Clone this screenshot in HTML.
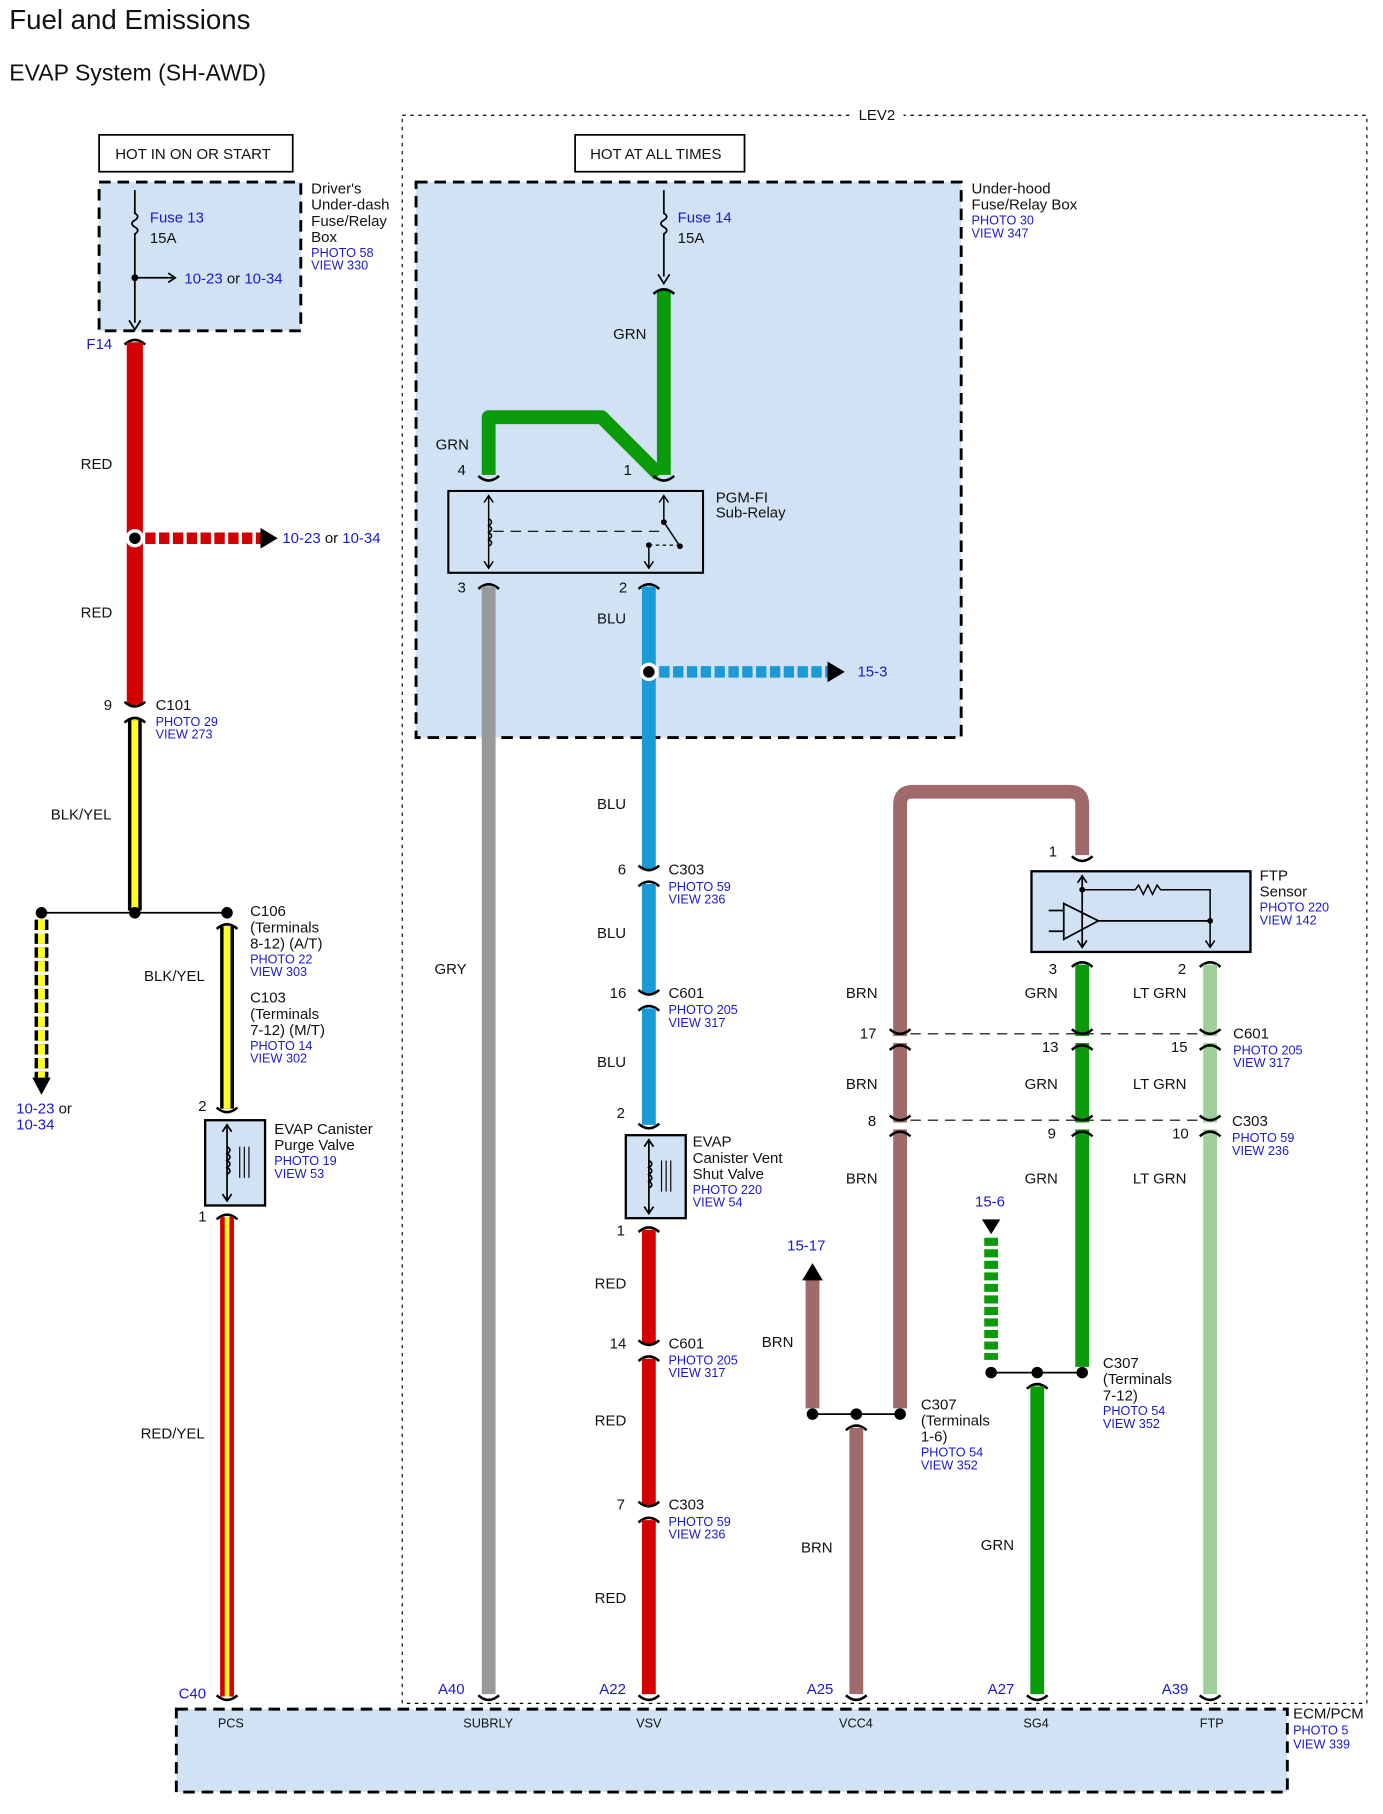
<!DOCTYPE html>
<html><head><meta charset="utf-8"><style>
html,body{margin:0;padding:0;background:#fff}
svg{display:block}
text{font-family:"Liberation Sans",Arial,sans-serif;fill:#111}
.s{font-size:13px}
.b{fill:#1a1acc;font-size:11px}
.bl{fill:#1a1acc;font-size:13px}
</style></head><body>
<svg width="1383" height="1814" viewBox="0 0 1200 1574" preserveAspectRatio="none" xmlns="http://www.w3.org/2000/svg">
<defs>
<g id="u"><path d="M-9,-5 Q0,3 9,-5" fill="none" stroke="#000" stroke-width="2.2"/></g>
<g id="d"><path d="M-9,5 Q0,-3 9,5" fill="none" stroke="#000" stroke-width="2.2"/></g>
</defs>
<text x="8" y="25" style="font-size:24px">Fuel and Emissions</text>
<text x="8" y="70" style="font-size:20px">EVAP System (SH-AWD)</text>

<!-- LEV2 -->
<rect x="349" y="100" width="837" height="1378" fill="none" stroke="#000" stroke-dasharray="3,4" stroke-width="1"/>
<rect x="740" y="92" width="44" height="14" fill="#fff"/>
<text x="745" y="104" class="s">LEV2</text>

<!-- boxes -->
<rect x="86" y="117" width="168" height="32" fill="#fff" stroke="#000" stroke-width="1.5"/>
<text x="100" y="138" class="s">HOT IN ON OR START</text>
<rect x="499" y="117" width="147" height="32" fill="#fff" stroke="#000" stroke-width="1.5"/>
<text x="512" y="138" class="s">HOT AT ALL TIMES</text>

<rect x="86" y="158" width="175" height="129" fill="#d0e2f4" stroke="#000" stroke-width="2.5" stroke-dasharray="10,6"/>
<text x="270" y="168" class="s">Driver's</text><text x="270" y="182" class="s">Under-dash</text><text x="270" y="196" class="s">Fuse/Relay</text><text x="270" y="210" class="s">Box</text>
<text x="270" y="223" class="b">PHOTO 58</text><text x="270" y="234" class="b">VIEW 330</text>

<rect x="361" y="158" width="473" height="482" fill="#d0e2f4" stroke="#000" stroke-width="2.5" stroke-dasharray="10,6"/>
<text x="843" y="168" class="s">Under-hood</text><text x="843" y="182" class="s">Fuse/Relay Box</text>
<text x="843" y="195" class="b">PHOTO 30</text><text x="843" y="206" class="b">VIEW 347</text>

<!-- Fuse 13 -->
<path d="M117,165 V185 q5,3 0,6 q-5,3 0,6 q5,3 0,6 V280" fill="none" stroke="#000" stroke-width="1.5"/>
<path d="M112,278 L117,286 L122,278" fill="none" stroke="#000" stroke-width="1.5"/>
<circle cx="117" cy="241" r="3"/><path d="M117,241 H150" stroke="#000" stroke-width="1.5"/><path d="M146,237 L152,241 L146,245" fill="none" stroke="#000" stroke-width="1.5"/>
<text x="130" y="193" class="bl">Fuse 13</text><text x="130" y="211" class="s">15A</text>
<text x="160" y="246" class="bl">10-23 <tspan style="fill:#111">or</tspan> 10-34</text>
<!-- Fuse 14 -->
<path d="M576,165 V185 q5,3 0,6 q-5,3 0,6 q5,3 0,6 V240" fill="none" stroke="#000" stroke-width="1.5"/>
<path d="M571,238 L576,246 L581,238" fill="none" stroke="#000" stroke-width="1.5"/>
<text x="588" y="193" class="bl">Fuse 14</text><text x="588" y="211" class="s">15A</text>

<!-- left column wires -->
<text x="75" y="303" class="bl">F14</text>
<use href="#d" x="117" y="294"/>
<line x1="117" y1="297" x2="117" y2="612" stroke="#d40000" stroke-width="14"/>
<text x="70" y="407" class="s">RED</text><text x="70" y="536" class="s">RED</text>
<line x1="126" y1="467" x2="226" y2="467" stroke="#d40000" stroke-width="10" stroke-dasharray="9,3"/>
<path d="M226,458 L241,467 L226,476Z"/>
<circle cx="117" cy="467" r="8" fill="#fff"/><circle cx="117" cy="467" r="5"/>
<text x="245" y="471" class="bl">10-23 <tspan style="fill:#111">or</tspan> 10-34</text>
<use href="#u" x="117" y="614"/><use href="#d" x="117" y="622"/>
<text x="90" y="616" class="s">9</text><text x="135" y="616" class="s">C101</text>
<text x="135" y="630" class="b">PHOTO 29</text><text x="135" y="641" class="b">VIEW 273</text>
<line x1="117" y1="625" x2="117" y2="790" stroke="#000" stroke-width="12"/>
<line x1="117" y1="625" x2="117" y2="790" stroke="#ffff22" stroke-width="6"/>
<text x="44" y="711" class="s">BLK/YEL</text>
<line x1="36" y1="792" x2="197" y2="792" stroke="#000" stroke-width="1.5"/>
<circle cx="36" cy="792" r="5"/><circle cx="117" cy="792" r="5"/><circle cx="197" cy="792" r="5"/>
<line x1="36" y1="798" x2="36" y2="935" stroke="#000" stroke-width="12" stroke-dasharray="9,3"/>
<line x1="36" y1="798" x2="36" y2="935" stroke="#ffff22" stroke-width="6" stroke-dasharray="9,3"/>
<path d="M28,935 L36,950 L44,935Z"/>
<text x="14" y="966" class="bl">10-23 <tspan style="fill:#111">or</tspan></text><text x="14" y="980" class="bl">10-34</text>
<use href="#d" x="197" y="801"/>
<line x1="197" y1="804" x2="197" y2="962" stroke="#000" stroke-width="12"/>
<line x1="197" y1="804" x2="197" y2="962" stroke="#ffff22" stroke-width="6"/>
<text x="217" y="795" class="s">C106</text><text x="217" y="809" class="s">(Terminals</text><text x="217" y="823" class="s">8-12) (A/T)</text>
<text x="217" y="836" class="b">PHOTO 22</text><text x="217" y="847" class="b">VIEW 303</text>
<text x="217" y="870" class="s">C103</text><text x="217" y="884" class="s">(Terminals</text><text x="217" y="898" class="s">7-12) (M/T)</text>
<text x="217" y="911" class="b">PHOTO 14</text><text x="217" y="922" class="b">VIEW 302</text>
<text x="125" y="851" class="s">BLK/YEL</text>
<text x="172" y="964" class="s">2</text>
<use href="#u" x="197" y="966"/>
<rect x="178" y="972" width="52" height="74" fill="#d0e2f4" stroke="#000" stroke-width="2"/>
<path d="M197,976 V1042 M193,982 L197,976 L201,982 M193,1036 L197,1042 L201,1036" fill="none" stroke="#000" stroke-width="1.5"/>
<path d="M197,995 q5,3 0,6 q5,3 0,6 q5,3 0,6 q5,3 0,6" fill="none" stroke="#000" stroke-width="1.5"/>
<path d="M208,995 V1022 M212,995 V1022 M216,995 V1022" stroke="#000" stroke-width="1"/>
<text x="238" y="984" class="s">EVAP Canister</text><text x="238" y="998" class="s">Purge Valve</text>
<text x="238" y="1011" class="b">PHOTO 19</text><text x="238" y="1022" class="b">VIEW 53</text>
<text x="172" y="1060" class="s">1</text>
<use href="#d" x="197" y="1053"/>
<line x1="197" y1="1056" x2="197" y2="1472" stroke="#d40000" stroke-width="12"/>
<line x1="197" y1="1056" x2="197" y2="1472" stroke="#ffff22" stroke-width="4"/>
<text x="122" y="1248" class="s">RED/YEL</text>
<text x="155" y="1474" class="bl">C40</text>
<use href="#u" x="197" y="1476"/>

<!-- relay -->
<line x1="576" y1="252" x2="576" y2="412" stroke="#0a9a0a" stroke-width="12"/>
<use href="#d" x="576" y="250"/>
<text x="532" y="294" class="s">GRN</text>
<path d="M424,412 V362 H522 L572,412" fill="none" stroke="#0a9a0a" stroke-width="12" stroke-linejoin="round"/>
<text x="378" y="390" class="s">GRN</text>
<text x="397" y="412" class="s">4</text><text x="541" y="412" class="s">1</text>
<use href="#u" x="424" y="418"/><use href="#u" x="576" y="418"/>
<rect x="389" y="426" width="221" height="71" fill="#d0e2f4" stroke="#000" stroke-width="1.8"/>
<path d="M424,430 V493 M420,436 L424,430 L428,436 M420,487 L424,493 L428,487" fill="none" stroke="#000" stroke-width="1.3"/>
<path d="M424,450 q5,3 0,6 q5,3 0,6 q5,3 0,6 q5,3 0,6" fill="none" stroke="#000" stroke-width="1.3"/>
<path d="M428,461 H572" stroke="#000" stroke-dasharray="9,6" stroke-width="1"/>
<path d="M576,430 V453 L590,474 M572,436 L576,430 L580,436" fill="none" stroke="#000" stroke-width="1.3"/>
<circle cx="576" cy="453" r="2.5"/><circle cx="590" cy="474" r="2.5"/><circle cx="563" cy="473" r="2.5"/>
<path d="M563,473 H588" stroke="#000" stroke-dasharray="3,3"/>
<path d="M563,473 V493 M559,487 L563,493 L567,487" fill="none" stroke="#000" stroke-width="1.3"/>
<text x="621" y="436" class="s">PGM-FI</text><text x="621" y="449" class="s">Sub-Relay</text>
<text x="397" y="514" class="s">3</text><text x="537" y="514" class="s">2</text>
<use href="#d" x="424" y="506"/><use href="#d" x="563" y="506"/>

<!-- GRY -->
<line x1="424" y1="509" x2="424" y2="1470" stroke="#999" stroke-width="12"/>
<text x="377" y="845" class="s">GRY</text>
<text x="380" y="1470" class="bl">A40</text><use href="#u" x="424" y="1476"/>

<!-- BLU -->
<line x1="563" y1="509" x2="563" y2="754" stroke="#1a9bd7" stroke-width="12"/>
<line x1="572" y1="583" x2="718" y2="583" stroke="#1a9bd7" stroke-width="10" stroke-dasharray="9,3"/>
<path d="M718,574 L733,583 L718,592Z"/>
<circle cx="563" cy="583" r="8" fill="#fff"/><circle cx="563" cy="583" r="5"/>
<text x="744" y="587" class="bl">15-3</text>
<text x="518" y="541" class="s">BLU</text><text x="518" y="702" class="s">BLU</text>
<use href="#u" x="563" y="756"/><use href="#d" x="563" y="764"/>
<text x="536" y="759" class="s">6</text><text x="580" y="759" class="s">C303</text>
<text x="580" y="773" class="b">PHOTO 59</text><text x="580" y="784" class="b">VIEW 236</text>
<line x1="563" y1="767" x2="563" y2="862" stroke="#1a9bd7" stroke-width="12"/>
<text x="518" y="814" class="s">BLU</text>
<use href="#u" x="563" y="864"/><use href="#d" x="563" y="872"/>
<text x="529" y="866" class="s">16</text><text x="580" y="866" class="s">C601</text>
<text x="580" y="880" class="b">PHOTO 205</text><text x="580" y="891" class="b">VIEW 317</text>
<line x1="563" y1="875" x2="563" y2="976" stroke="#1a9bd7" stroke-width="12"/>
<text x="518" y="926" class="s">BLU</text>
<text x="535" y="970" class="s">2</text>
<use href="#u" x="563" y="980"/>
<rect x="543" y="985" width="52" height="72" fill="#d0e2f4" stroke="#000" stroke-width="2"/>
<path d="M563,989 V1053 M559,995 L563,989 L567,995 M559,1047 L563,1053 L567,1047" fill="none" stroke="#000" stroke-width="1.5"/>
<path d="M563,1007 q5,3 0,6 q5,3 0,6 q5,3 0,6 q5,3 0,6" fill="none" stroke="#000" stroke-width="1.5"/>
<path d="M574,1007 V1034 M578,1007 V1034 M582,1007 V1034" stroke="#000" stroke-width="1"/>
<text x="601" y="995" class="s">EVAP</text><text x="601" y="1009" class="s">Canister Vent</text><text x="601" y="1023" class="s">Shut Valve</text>
<text x="601" y="1036" class="b">PHOTO 220</text><text x="601" y="1047" class="b">VIEW 54</text>
<text x="535" y="1072" class="s">1</text>
<use href="#d" x="563" y="1064"/>
<line x1="563" y1="1067" x2="563" y2="1166" stroke="#d40000" stroke-width="12"/>
<text x="516" y="1118" class="s">RED</text>
<use href="#u" x="563" y="1168"/><use href="#d" x="563" y="1176"/>
<text x="529" y="1170" class="s">14</text><text x="580" y="1170" class="s">C601</text>
<text x="580" y="1184" class="b">PHOTO 205</text><text x="580" y="1195" class="b">VIEW 317</text>
<line x1="563" y1="1179" x2="563" y2="1306" stroke="#d40000" stroke-width="12"/>
<text x="516" y="1237" class="s">RED</text>
<use href="#u" x="563" y="1308"/><use href="#d" x="563" y="1316"/>
<text x="535" y="1310" class="s">7</text><text x="580" y="1310" class="s">C303</text>
<text x="580" y="1324" class="b">PHOTO 59</text><text x="580" y="1335" class="b">VIEW 236</text>
<line x1="563" y1="1319" x2="563" y2="1470" stroke="#d40000" stroke-width="12"/>
<text x="516" y="1391" class="s">RED</text>
<text x="520" y="1470" class="bl">A22</text><use href="#u" x="563" y="1476"/>

<!-- BRN -->
<path d="M781,1222 V698 Q781,687 792,687 H928 Q939,687 939,698 V742" fill="none" stroke="#a06a6a" stroke-width="12"/>
<text x="910" y="743" class="s">1</text>
<use href="#u" x="939" y="748"/>
<rect x="895" y="756" width="190" height="70" fill="#d0e2f4" stroke="#000" stroke-width="2"/>
<path d="M939,760 V822 M935,766 L939,760 L943,766 M935,816 L939,822 L943,816" fill="none" stroke="#000" stroke-width="1.5"/>
<path d="M939,772 H985 l3,-4 l4,8 l4,-8 l4,8 l4,-8 l3,4 H1050 V822 M1046,816 L1050,822 L1054,816" fill="none" stroke="#000" stroke-width="1.3"/>
<circle cx="939" cy="772" r="2.5"/><circle cx="1050" cy="799" r="2.5"/>
<path d="M923,784 V815 L953,799Z M910,790 H923 M910,808 H923 M953,799 H1050" fill="none" stroke="#000" stroke-width="1.5"/>
<text x="1093" y="764" class="s">FTP</text><text x="1093" y="778" class="s">Sensor</text>
<text x="1093" y="791" class="b">PHOTO 220</text><text x="1093" y="802" class="b">VIEW 142</text>
<text x="910" y="845" class="s">3</text><text x="1022" y="845" class="s">2</text>
<use href="#d" x="939" y="834"/><use href="#d" x="1050" y="834"/>
<line x1="939" y1="837" x2="939" y2="1186" stroke="#0a9a0a" stroke-width="12"/>
<line x1="1050" y1="837" x2="1050" y2="1470" stroke="#9fd09a" stroke-width="12"/>
<text x="734" y="866" class="s">BRN</text><text x="889" y="866" class="s">GRN</text><text x="983" y="866" class="s">LT GRN</text>
<text x="734" y="945" class="s">BRN</text><text x="889" y="945" class="s">GRN</text><text x="983" y="945" class="s">LT GRN</text>
<text x="734" y="1027" class="s">BRN</text><text x="889" y="1027" class="s">GRN</text><text x="983" y="1027" class="s">LT GRN</text>
<line x1="790" y1="897" x2="1041" y2="897" stroke="#000" stroke-dasharray="9,6"/>
<line x1="790" y1="972" x2="1041" y2="972" stroke="#000" stroke-dasharray="9,6"/>
<g fill="#fff"><rect x="772" y="899" width="18" height="6"/><rect x="930" y="899" width="18" height="6"/><rect x="1041" y="899" width="18" height="6"/>
<rect x="772" y="974" width="18" height="6"/><rect x="930" y="974" width="18" height="6"/><rect x="1041" y="974" width="18" height="6"/></g>
<use href="#u" x="781" y="898"/><use href="#d" x="781" y="906"/>
<use href="#u" x="939" y="898"/><use href="#d" x="939" y="906"/>
<use href="#u" x="1050" y="898"/><use href="#d" x="1050" y="906"/>
<use href="#u" x="781" y="973"/><use href="#d" x="781" y="981"/>
<use href="#u" x="939" y="973"/><use href="#d" x="939" y="981"/>
<use href="#u" x="1050" y="973"/><use href="#d" x="1050" y="981"/>
<text x="746" y="901" class="s">17</text><text x="904" y="913" class="s">13</text><text x="1016" y="913" class="s">15</text>
<text x="753" y="977" class="s">8</text><text x="909" y="988" class="s">9</text><text x="1017" y="988" class="s">10</text>
<text x="1070" y="901" class="s">C601</text><text x="1070" y="915" class="b">PHOTO 205</text><text x="1070" y="926" class="b">VIEW 317</text>
<text x="1069" y="977" class="s">C303</text><text x="1069" y="991" class="b">PHOTO 59</text><text x="1069" y="1002" class="b">VIEW 236</text>

<!-- C307 left -->
<line x1="705" y1="1110" x2="705" y2="1222" stroke="#a06a6a" stroke-width="12"/>
<path d="M696,1111 L705,1096 L714,1111Z"/>
<text x="683" y="1085" class="bl">15-17</text>
<text x="661" y="1169" class="s">BRN</text>
<line x1="705" y1="1227" x2="781" y2="1227" stroke="#000" stroke-width="1.5"/>
<circle cx="705" cy="1227" r="5"/><circle cx="743" cy="1227" r="5"/><circle cx="781" cy="1227" r="5"/>
<use href="#d" x="743" y="1236"/>
<line x1="743" y1="1239" x2="743" y2="1470" stroke="#a06a6a" stroke-width="12"/>
<text x="695" y="1347" class="s">BRN</text>
<text x="799" y="1223" class="s">C307</text><text x="799" y="1237" class="s">(Terminals</text><text x="799" y="1251" class="s">1-6)</text>
<text x="799" y="1264" class="b">PHOTO 54</text><text x="799" y="1275" class="b">VIEW 352</text>
<text x="700" y="1470" class="bl">A25</text><use href="#u" x="743" y="1476"/>

<!-- C307 right -->
<path d="M852,1058 L860,1071 L868,1058Z"/>
<text x="846" y="1047" class="bl">15-6</text>
<line x1="860" y1="1074" x2="860" y2="1180" stroke="#0a9a0a" stroke-width="12" stroke-dasharray="7,3"/>
<line x1="860" y1="1191" x2="939" y2="1191" stroke="#000" stroke-width="1.5"/>
<circle cx="860" cy="1191" r="5"/><circle cx="900" cy="1191" r="5"/><circle cx="939" cy="1191" r="5"/>
<use href="#d" x="900" y="1200"/>
<line x1="900" y1="1203" x2="900" y2="1470" stroke="#0a9a0a" stroke-width="12"/>
<text x="851" y="1345" class="s">GRN</text>
<text x="957" y="1187" class="s">C307</text><text x="957" y="1201" class="s">(Terminals</text><text x="957" y="1215" class="s">7-12)</text>
<text x="957" y="1228" class="b">PHOTO 54</text><text x="957" y="1239" class="b">VIEW 352</text>
<text x="857" y="1470" class="bl">A27</text><use href="#u" x="900" y="1476"/>
<text x="1008" y="1470" class="bl">A39</text><use href="#u" x="1050" y="1476"/>

<!-- ECM -->
<rect x="153" y="1483" width="964" height="72" fill="#d0e2f4" stroke="#000" stroke-width="2.5" stroke-dasharray="10,6"/>
<g class="s" style="font-size:11px">
<text x="189" y="1499" style="font-size:11px">PCS</text>
<text x="402" y="1499" style="font-size:11px">SUBRLY</text>
<text x="552" y="1499" style="font-size:11px">VSV</text>
<text x="728" y="1499" style="font-size:11px">VCC4</text>
<text x="888" y="1499" style="font-size:11px">SG4</text>
<text x="1041" y="1499" style="font-size:11px">FTP</text>
</g>
<text x="1122" y="1491" class="s">ECM/PCM</text>
<text x="1122" y="1505" class="b">PHOTO 5</text><text x="1122" y="1517" class="b">VIEW 339</text>
</svg>
</body></html>
